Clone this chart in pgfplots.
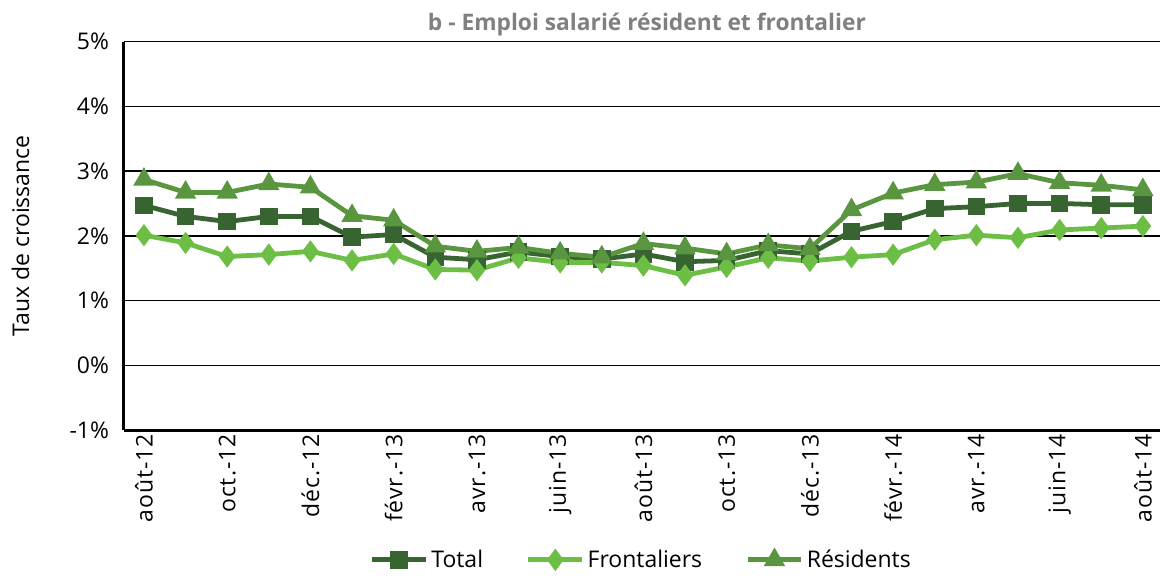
\documentclass[border=0pt]{standalone}
\usepackage{fontspec}
\setmainfont{Open Sans}
\usepackage{pgfplots}
\pgfplotsset{compat=1.18}
\definecolor{ctot}{HTML}{376430}
\definecolor{cfro}{HTML}{6DBE45}
\definecolor{cres}{HTML}{5A963F}
\definecolor{ctitle}{HTML}{808080}
\begin{document}
\begin{tikzpicture}
\begin{axis}[
  scale only axis,
  width=518.5pt, height=194.5pt,
  xmin=-0.48, xmax=24.4,
  ymin=-1, ymax=5,
  ytick={-1,0,1,2,3,4,5},
  yticklabel={\pgfmathparse{int(round(\tick))}\pgfmathresult\%},
  y tick label style={xshift=-4pt},
  xtick={0,2,...,24},
  xticklabels={août-12,oct.-12,déc.-12,févr.-13,avr.-13,juin-13,août-13,oct.-13,déc.-13,févr.-14,avr.-14,juin-14,août-14},
  x tick label style={rotate=90, anchor=east, inner xsep=2pt, font=\fontsize{11.5}{13}\selectfont\addfontfeatures{LetterSpace=4}},
  major tick length=0pt,
  ymajorgrids,
  grid style={black, line width=0.7pt},
  axis lines*=left,
  axis line style={-, line width=1.5pt, black},
  tick label style={font=\fontsize{11.5}{13}\selectfont, text=black},
  ylabel={Taux de croissance},
  ylabel style={font=\fontsize{11.5}{13}\selectfont, at={(axis description cs:-0.1,0.5)}, anchor=center, inner ysep=5.8pt},
  title={b - Emploi salarié résident et frontalier},
  title style={font=\bfseries\fontsize{11.4}{13}\selectfont, text=ctitle, at={(0.505,1)}, anchor=base, yshift=-0.5pt, inner ysep=6.6pt},
  legend columns=3,
  legend style={draw=none, at={(0.5,0)}, anchor=center, yshift=-65pt, font=\fontsize{11.5}{13}\selectfont,
    /tikz/every odd column/.append style={column sep=0pt},
    /tikz/every even column/.append style={column sep=20pt},
    nodes={inner xsep=1.5pt}},
  legend image code/.code={
    \draw[#1, mark repeat=2, mark phase=2] plot coordinates {(0pt,0pt) (13.5pt,0pt) (27pt,0pt)};
  },
]
\addplot[ctot, line width=2.4pt, mark=square*, mark size=3.2pt, mark options={solid}] coordinates {
(0,2.47) (1,2.30) (2,2.22) (3,2.30) (4,2.30) (5,1.98) (6,2.02) (7,1.67) (8,1.63)
(9,1.75) (10,1.68) (11,1.64) (12,1.72) (13,1.60) (14,1.62) (15,1.77) (16,1.72)
(17,2.07) (18,2.22) (19,2.42) (20,2.45) (21,2.50) (22,2.50) (23,2.48) (24,2.48)};
\addlegendentry{Total}
\addplot[cfro, line width=2.4pt, mark=diamond*, mark size=3.6pt, mark options={solid}] coordinates {
(0,2.01) (1,1.89) (2,1.68) (3,1.71) (4,1.76) (5,1.62) (6,1.72) (7,1.48) (8,1.47)
(9,1.66) (10,1.59) (11,1.59) (12,1.54) (13,1.39) (14,1.52) (15,1.66) (16,1.61)
(17,1.67) (18,1.71) (19,1.94) (20,2.01) (21,1.97) (22,2.09) (23,2.12) (24,2.15)};
\addlegendentry{Frontaliers}
\addplot[cres, line width=2.4pt, mark=triangle*, mark size=3.8pt, mark options={solid}] coordinates {
(0,2.87) (1,2.67) (2,2.67) (3,2.80) (4,2.75) (5,2.31) (6,2.24) (7,1.84) (8,1.76)
(9,1.82) (10,1.73) (11,1.67) (12,1.88) (13,1.81) (14,1.72) (15,1.86) (16,1.80)
(17,2.40) (18,2.66) (19,2.79) (20,2.83) (21,2.96) (22,2.82) (23,2.78) (24,2.71)};
\addlegendentry{Résidents}
\end{axis}
\end{tikzpicture}
\end{document}
